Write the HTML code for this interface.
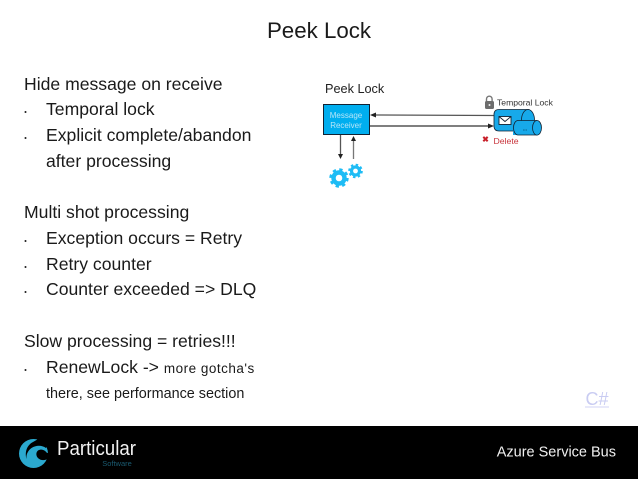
<!DOCTYPE html>
<html>
<head>
<meta charset="utf-8">
<style>
html,body{margin:0;padding:0;background:#fff;width:638px;height:479px;overflow:hidden}
svg{display:block}
text{font-family:"Liberation Sans",sans-serif}
</style>
</head>
<body>
<svg width="638" height="479" viewBox="0 0 638 479" xmlns="http://www.w3.org/2000/svg">
<rect width="638" height="479" fill="#fff"/>
<text x="319" y="38" font-size="22.3" text-anchor="middle" fill="#1a1a1a">Peek Lock</text>

<g font-size="17.6" fill="#1a1a1a">
<text x="24" y="90">Hide message on receive</text>
<text x="46" y="115">Temporal lock</text>
<text x="46" y="141">Explicit complete/abandon</text>
<text x="46" y="167">after processing</text>
<text x="24" y="218">Multi shot processing</text>
<text x="46" y="244">Exception occurs = Retry</text>
<text x="46" y="270">Retry counter</text>
<text x="46" y="295">Counter exceeded =&gt; DLQ</text>
<text x="24" y="347">Slow processing = retries!!!</text>
<text x="46" y="373">RenewLock -&gt; <tspan font-size="13.5" letter-spacing=".5">more gotcha's</tspan></text>
<text x="46" y="398" font-size="14.4">there, see performance section</text>
</g>
<g fill="#1a1a1a">
<circle cx="25.5" cy="112" r="1"/>
<circle cx="25.5" cy="138" r="1"/>
<circle cx="25.5" cy="241" r="1"/>
<circle cx="25.5" cy="267" r="1"/>
<circle cx="25.5" cy="292" r="1"/>
<circle cx="25.5" cy="370" r="1"/>
</g>

<text x="325" y="93" font-size="12.7" fill="#222">Peek Lock</text>

<rect x="323.5" y="104.5" width="46" height="30" fill="#00aeef" stroke="#123" stroke-width="1"/>
<text x="346" y="118" font-size="8" text-anchor="middle" fill="#b5e5f8">Message</text>
<text x="346" y="128" font-size="8" text-anchor="middle" fill="#b5e5f8">Receiver</text>

<line x1="375" y1="115" x2="495" y2="115.5" stroke="#555" stroke-width="1.3"/>
<polygon points="370,115 376,112.5 376,117.5" fill="#222"/>
<line x1="370" y1="126" x2="490" y2="126" stroke="#333" stroke-width="1.2"/>
<polygon points="494,126 488,123.5 488,128.5" fill="#222"/>
<line x1="340.5" y1="135" x2="340.5" y2="155" stroke="#555" stroke-width="1.3"/>
<polygon points="340.5,159 338,154 343,154" fill="#222"/>
<line x1="353.5" y1="140" x2="353.5" y2="159" stroke="#777" stroke-width="1.3"/>
<polygon points="353.5,136 351,141 356,141" fill="#222"/>

<!-- gears -->
<g fill="none" stroke="#1ebcf5">
<circle cx="339" cy="178" r="5.5" stroke-width="4.4"/>
<circle cx="339" cy="178" r="8.2" stroke-width="3" stroke-dasharray="3.2 3.24"/>
<circle cx="355.5" cy="171" r="4" stroke-width="3.2"/>
<circle cx="355.5" cy="171" r="6" stroke-width="2.6" stroke-dasharray="2.35 2.36"/>
</g>

<!-- lock -->
<path d="M486.5 102 v-3 a2.8 2.8 0 0 1 5.6 0 v3" fill="none" stroke="#777" stroke-width="1.4"/>
<rect x="485" y="101" width="9" height="8" rx="1.5" fill="#6d6d6d"/>
<circle cx="489.5" cy="105" r="1" fill="#eee"/>
<text x="497" y="105.5" font-size="8.6" fill="#333">Temporal Lock</text>

<!-- queue -->
<path d="M499 109.5 H529 V131 H499 Q494 131 494 126 V114.5 Q494 109.5 499 109.5 Z" fill="#17a9ea" stroke="#123" stroke-width=".8"/>
<ellipse cx="528" cy="120" rx="6.5" ry="10.5" fill="#17a9ea" stroke="#123" stroke-width=".8"/>
<rect x="513" y="120.5" width="25" height="14.5" fill="#17a9ea"/>
<path d="M537 120.5 H518 A4.5 7.2 0 0 0 518 135 H537" fill="#17a9ea" stroke="#123" stroke-width=".8"/>
<ellipse cx="537" cy="127.8" rx="4.5" ry="7.3" fill="#17a9ea" stroke="#123" stroke-width=".8"/>
<rect x="499" y="116.5" width="12" height="8" fill="#fff" stroke="#123" stroke-width=".9"/>
<path d="M499 116.5 L505 121.5 L511 116.5" fill="none" stroke="#123" stroke-width=".9"/>
<text x="525" y="131" font-size="4" text-anchor="middle" fill="#0a5a80">•••</text>

<text x="485.5" y="142" font-size="8" font-weight="bold" text-anchor="middle" fill="#c8202a">✖</text>
<text x="493.5" y="144" font-size="8.7" fill="#c8343c">Delete</text>

<text x="597" y="405" font-size="18" text-anchor="middle" fill="#c9ccf2">C#</text>
<line x1="585" y1="407" x2="609" y2="407" stroke="#d0d3f4" stroke-width="1"/>

<!-- footer -->
<rect x="0" y="426" width="638" height="53" fill="#000"/>
<circle cx="33.5" cy="453.5" r="14.5" fill="#2ba9cf"/>
<path d="M49 458 C45 461 41 460.5 38.5 458.5 C36 456.5 35.5 452.5 38 450.5 C41 448.5 45 450 47 453 L52 452 V440 H44 C47 444 47 446.5 46 448 C42 445 36 445 31.5 448 C27.5 451 26 455 26.5 459 C24.5 452 27 445 33 442 L40 438 H52 V462 Z" fill="#000"/>
<text x="57" y="455" font-size="20" textLength="79" lengthAdjust="spacingAndGlyphs" fill="#f2f2f2">Particular</text>
<text x="117" y="466" font-size="7.5" text-anchor="middle" fill="#1a5a70">Software</text>
<text x="616" y="456.5" font-size="14.5" text-anchor="end" fill="#f0f0f0">Azure Service Bus</text>
</svg>
</body>
</html>
